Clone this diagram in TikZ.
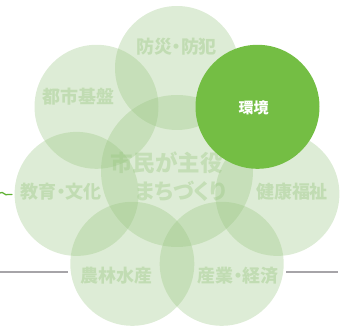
\documentclass[tikz,border=0pt]{standalone}
\usepackage{fontspec}
\newfontfamily\jp[RawFeature=+palt]{Noto Sans CJK JP}
\definecolor{petalc}{RGB}{150,196,126}
\definecolor{envc}{RGB}{116,190,68}
\definecolor{linec}{RGB}{166,164,168}
\definecolor{squig}{RGB}{96,178,52}
\begin{document}
\begin{tikzpicture}[x=1pt,y=1pt]
\tikzset{
  petal/.style={circle,inner sep=0pt,minimum size=124pt,fill=petalc,fill opacity=0.32,draw=none},
  hub/.style={circle,inner sep=0pt,minimum size=152pt,fill=petalc,fill opacity=0.32,draw=none},
  lab/.style={inner sep=0pt,font=\jp\bfseries\fontsize{18}{18}\selectfont,text=petalc,text opacity=0.4},
  hubtext/.style={inner sep=0pt,font=\jp\bfseries\fontsize{22.5}{22.5}\selectfont,text=petalc,text opacity=0.36},
  envlab/.style={inner sep=0pt,font=\jp\bfseries\fontsize{15}{15}\selectfont,text=white},
  rule/.style={draw=linec,line width=2.6pt},
}
\useasboundingbox (0,0) rectangle (341,-329);
% gray rules
\coordinate (gl0) at (0,-272);
\coordinate (gl1) at (68,-272);
\coordinate (gr0) at (286,-272);
\coordinate (gr1) at (338,-272);
\draw[rule] (gl0) -- (gl1);
\draw[rule] (gr0) -- (gr1);
% green squiggle
\coordinate (s0) at (0,-193);
\coordinate (s1) at (12,-194.5);
\draw[squig,line width=1.3pt,line cap=round] (s0) .. controls (3,-190.5) and (5,-196.5) .. (8,-194.5) -- (s1);
% circles
\node[hub] (hub) at (177,-171) {};
\node[petal] (p0) at (177,-68) {};
\node[petal] (p2) at (277.4,-193.9) {};
\node[petal] (p3) at (221.7,-263.8) {};
\node[petal] (p4) at (132.3,-263.8) {};
\node[petal] (p5) at (76.6,-193.9) {};
\node[petal] (p6) at (96.5,-106.8) {};
% labels
\node[lab] (t0) at (176.5,-47) {防災・防犯};
\node[lab] (t2) at (292,-192) {健康福祉};
\node[lab] (t3) at (238,-276) {産業・経済};
\node[lab] (t4) at (116.5,-276) {農林水産};
\node[lab] (t5) at (61,-192) {教育・文化};
\node[lab] (t6) at (78.5,-97) {都市基盤};
\node[hubtext] (h1) at (166.5,-163) {市民が主役};
\node[hubtext,font=\jp\bfseries\fontsize{21.5}{21.5}\selectfont] (h2) at (181,-191) {まちづくり};
% highlighted circle
\node[circle,inner sep=0pt,minimum size=124pt,fill=envc,draw=none] (p1) at (257.5,-106.8) {};
\node[envlab] (t1) at (253.5,-108) {環境};
\end{tikzpicture}
\end{document}
